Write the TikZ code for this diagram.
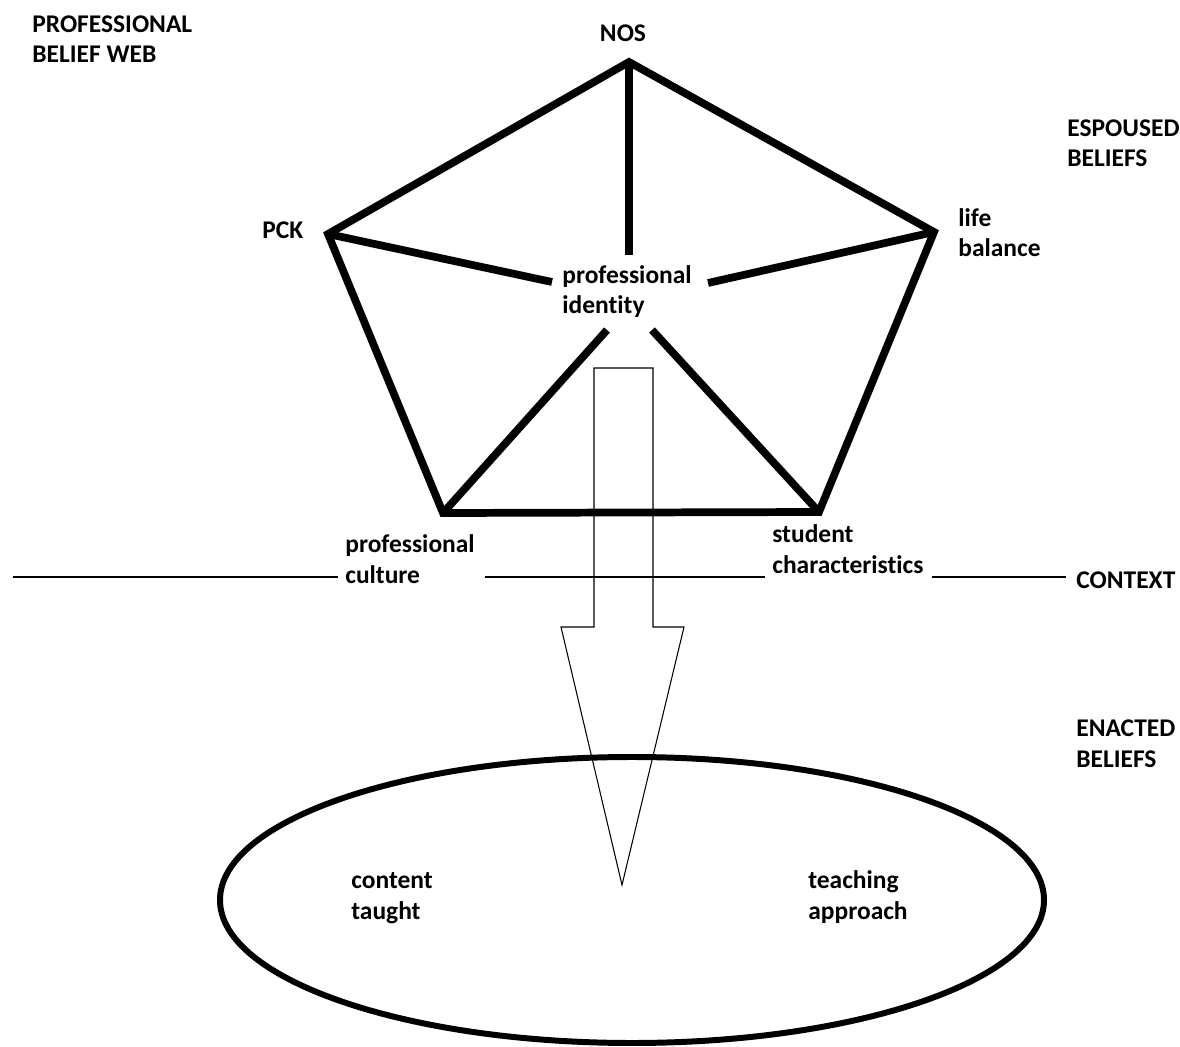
\documentclass[tikz,border=0pt]{standalone}
\usepackage{fontspec}
\setmainfont{Carlito}[Ligatures=NoCommon]
\usetikzlibrary{positioning}

\tikzset{
  lbl/.style={anchor=base west, inner sep=0pt, align=left,
    font=\bfseries\fontsize{14.5}{17.6}\selectfont},
  web/.style={line width=4.4pt},
  ctx/.style={line width=1.1pt},
}

\begin{document}
\begin{tikzpicture}[x=0.02cm,y=-0.02cm]
\useasboundingbox (0,0) rectangle (1180,1047);
% corners of the belief web
\coordinate (nos) at (629,62);
\coordinate (pck) at (328,234);
\coordinate (life) at (934,232);
\coordinate (culture) at (443,513);
\coordinate (student) at (819,512);
% where the spokes stop short of the centre text
\coordinate (hubN) at (629,255);
\coordinate (hubW) at (552,282);
\coordinate (hubE) at (708,283);
\coordinate (hubSW) at (607,330);
\coordinate (hubSE) at (652,330);
\draw[web] (nos) -- (life) -- (student) -- (culture) -- (pck) -- cycle;
\foreach \a/\b in {nos/hubN,pck/hubW,life/hubE,culture/hubSW,student/hubSE}
{
	\draw[web] (\a) -- (\b);
}
% context line
\draw[ctx] (13,577) -- (338,577);
\draw[ctx] (485,577) -- (765,577);
\draw[ctx] (932,577) -- (1066,577);
% big arrow down to the enacted beliefs
\draw[line width=0.6pt] (594,368) -- (653,368) -- (653,627) -- (684,627)
  -- (622,885) -- (561,627) -- (594,627) -- cycle;
\draw[line width=3.4pt] (632,900) ellipse [x radius=412, y radius=143];
% labels (base = baseline of the last line)
\node[lbl] (title) at (32,63) {PROFESSIONAL\\BELIEF WEB};
\node[lbl,anchor=base] (noslbl) at (623,42) {NOS};
\node[lbl] (pcklbl) at (262,239) {PCK};
\node[lbl] (lifelbl) at (958,257) {life\\balance};
\node[lbl] (identity) at (562,314) {professional\\identity};
\node[lbl] (espoused) at (1067,167) {ESPOUSED\\BELIEFS};
\node[lbl] (culturelbl) at (345,583) {professional\\culture};
\node[lbl] (studentlbl) at (772,573) {student\\characteristics};
\node[lbl] (context) at (1076,588) {CONTEXT};
\node[lbl] (enacted) at (1076,767) {ENACTED\\BELIEFS};
\node[lbl] (content) at (351,919) {content\\taught};
\node[lbl] (teaching) at (808,919) {teaching\\approach};
\end{tikzpicture}
\end{document}
